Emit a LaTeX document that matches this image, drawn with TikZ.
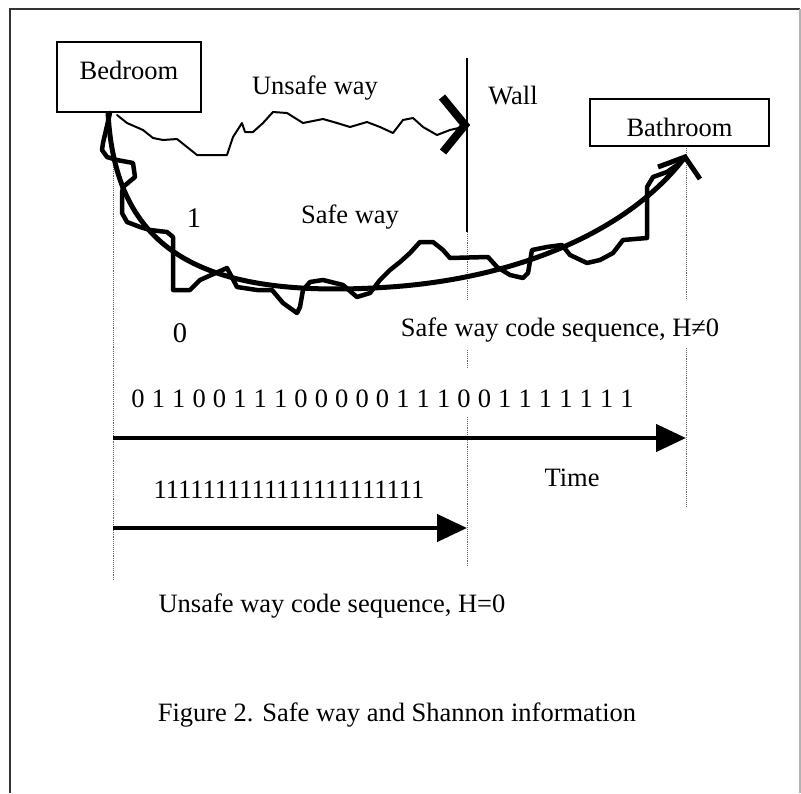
\documentclass[tikz,border=0pt]{standalone}
\usepackage{fontspec}
\setmainfont{Liberation Serif}
\usetikzlibrary{arrows.meta}
\begin{document}
\begin{tikzpicture}[x=1pt,y=-1pt,
  lbl/.style={font=\fontsize{26.5}{30}\selectfont, inner sep=0pt, anchor=base},
  big/.style={font=\fontsize{28.5}{32}\selectfont, inner sep=0pt, anchor=base},
  room/.style={draw, line width=1.5pt, inner sep=0pt, font=\fontsize{26.5}{30}\selectfont},
  guide/.style={densely dotted, line width=0.9pt, black!60},
  jag/.style={line width=4.5pt, line join=round, line cap=round},
  thin/.style={line width=2pt, line join=round, line cap=round},
  timearrow/.style={line width=4.5pt, -{Triangle[length=30pt,width=27pt]}}]
\useasboundingbox (0,0) rectangle (801,793);
% frame
\draw[line width=2pt, black!80] (10,793) -- (10,9) -- (800,9);
\draw[line width=1.5pt, black!30] (800,9) -- (800,793);

% rooms
\node[room, minimum width=144pt, minimum height=70pt, text height=18pt, text depth=14pt] (bedroom) at (129,77) {Bedroom};
\node[room, minimum width=179pt, minimum height=47pt, text height=27pt, text depth=0pt] (bathroom) at (679.5,122.5) {Bathroom};

% labels
\node[lbl] (unsafe) at (315,94) {Unsafe way};
\node[lbl] (walllbl) at (513,104) {Wall};
\node[big] (one) at (194,227) {1};
\node[lbl] (safe) at (350,223) {Safe way};
\node[big] (zero) at (180,342) {0};
\node[lbl] (safeseq) at (560,336) {Safe way code sequence, H≠0};
\node[lbl] (time) at (572,486) {Time};
\node[lbl] (ones) at (289,498) {1111111111111111111111};
\node[lbl] (unsafeseq) at (332,612) {Unsafe way code sequence, H=0};
\node[lbl] (caption) at (397,721) {Figure 2. Safe way and Shannon information};
\foreach \d [count=\i from 0] in {0,1,1,0,0,1,1,1,0,0,0,0,0,1,1,1,0,0,1,1,1,1,1,1,1}
  \node[lbl] (s\i) at ({138+20.375*\i},407) {\d};

% wall
\coordinate (walltop) at (467,58);
\coordinate (wallend) at (467,232);
\draw[line width=2pt] (walltop) -- (wallend);

% dotted guides
\draw[guide] (113,165) -- (113,580);
\draw[guide] (wallend) -- (467,300);
\draw[guide] (467,350) -- (467,368);
\draw[guide] (467,417) -- (467,567);
\coordinate (bathfoot) at (686,148);
\draw[guide] (bathfoot) -- (686,300);
\draw[guide] (686,348) -- (686,507);

% time arrows
\coordinate (t0) at (113,438);
\coordinate (t1) at (686,438);
\coordinate (u0) at (113,528);
\coordinate (u1) at (467,528);
\draw[timearrow] (t0) -- (t1);
\draw[timearrow] (u0) -- (u1);

% unsafe way (thin wiggly path ending at the wall)
\draw[thin] (117,115) -- (127,123) -- (143,130) -- (153,138) -- (163,140) -- (177,139) -- (197,155) -- (227,155) -- (233,137) -- (242,123) -- (245,132) -- (253,132) -- (263,123) -- (273,112) -- (287,113) -- (303,123) -- (323,119) -- (337,123) -- (350,127) -- (367,122) -- (380,127) -- (393,133) -- (403,120) -- (413,118) -- (423,127) -- (437,135) -- (450,130) -- (463,127);
% barrier mark
\draw[line width=8pt, line join=miter] (442,97) -- (465,125) -- (443,152);

% safe way smooth curve
\coordinate (start) at (108,112);
\coordinate (goal) at (685,157);
\draw[line width=5pt] (start) .. controls (115,250) and (200,300) .. (390,287) .. controls (520,278) and (630,230) .. (goal);
\draw[line width=5pt, line join=miter] (658,167) -- (goal) -- (700,179);

% safe way jagged path
\draw[jag] (110,113) -- (103,143) -- (102,150) -- (107,157) -- (117,160) -- (133,163) -- (135,177) -- (123,187) -- (122,193) -- (122,213) -- (127,222) -- (140,227) -- (150,230) -- (167,232) -- (173,237) -- (173,290) -- (190,290) -- (200,280) -- (227,268) -- (237,287) -- (257,290) -- (272,290) -- (283,303) -- (297,313) -- (300,307) -- (303,290) -- (310,282) -- (323,280) -- (343,285) -- (357,297) -- (370,293) -- (380,280) -- (390,270) -- (400,262) -- (410,253) -- (420,242) -- (433,242) -- (443,250) -- (450,258) -- (488,257) -- (497,267) -- (510,275) -- (523,278) -- (528,273) -- (532,250) -- (547,247) -- (562,245) -- (570,255) -- (587,263) -- (600,260) -- (613,253) -- (623,240) -- (647,238) -- (647,187) -- (653,177) -- (667,172) -- (680,163) -- (goal);
\end{tikzpicture}
\end{document}
